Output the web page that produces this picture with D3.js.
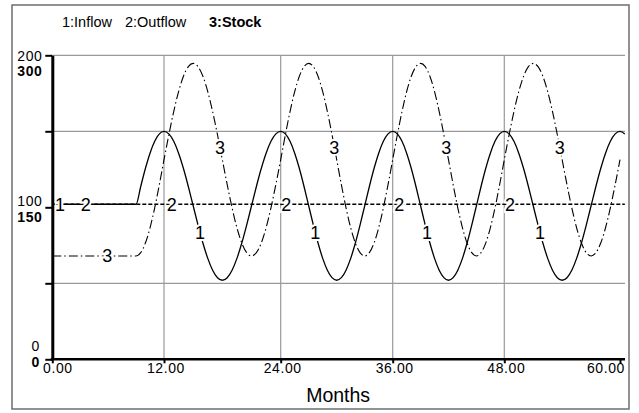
<!DOCTYPE html>
<html><head><meta charset="utf-8">
<script src="https://cdn.jsdelivr.net/npm/d3@7"></script>
<style>
body{margin:0;background:#fff}
svg{display:block}
text{font-family:"Liberation Sans",Arial,Helvetica,sans-serif;fill:#000}
</style>
</head><body>
<svg id="c" width="639" height="413"></svg>
<script>
// ---- data ----
const months = [0,0.5,1,1.5,2,2.5,3,3.5,4,4.5,5,5.5,6,6.5,7,7.5,8,8.5,9,9.5,10,10.5,11,11.5,12,12.5,13,13.5,14,14.5,15,15.5,16,16.5,17,17.5,18,18.5,19,19.5,20,20.5,21,21.5,22,22.5,23,23.5,24,24.5,25,25.5,26,26.5,27,27.5,28,28.5,29,29.5,30,30.5,31,31.5,32,32.5,33,33.5,34,34.5,35,35.5,36,36.5,37,37.5,38,38.5,39,39.5,40,40.5,41,41.5,42,42.5,43,43.5,44,44.5,45,45.5,46,46.5,47,47.5,48,48.5,49,49.5,50,50.5,51,51.5,52,52.5,53,53.5,54,54.5,55,55.5,56,56.5,57,57.5,58,58.5,59,59.5,60,60.5];

const inflow = [102,102,102,102,102,102,102,102,102,102,102,102,102,102,102,102,102,102,
102,113.7,125.5,135.6,143.4,148.3,150,148.3,143.4,135.6,125.5,113.7,101,88.3,76.5,66.4,58.6,53.7,52,53.7,58.6,66.4,76.5,88.3,
101,113.7,125.5,135.6,143.4,148.3,150,148.3,143.4,135.6,125.5,113.7,101,88.3,76.5,66.4,58.6,53.7,52,53.7,58.6,66.4,76.5,88.3,
101,113.7,125.5,135.6,143.4,148.3,150,148.3,143.4,135.6,125.5,113.7,101,88.3,76.5,66.4,58.6,53.7,52,53.7,58.6,66.4,76.5,88.3,
101,113.7,125.5,135.6,143.4,148.3,150,148.3,143.4,135.6,125.5,113.7,101,88.3,76.5,66.4,58.6,53.7,52,53.7,58.6,66.4,76.5,88.3,
101,113.7,125.5,135.6,143.4,148.3,150,148.3];

const outflow = [102,102,102,102,102,102,102,102,102,102,102,102,102,102,102,102,102,102,102,102,
102,102,102,102,102,102,102,102,102,102,102,102,102,102,102,102,102,102,102,102,
102,102,102,102,102,102,102,102,102,102,102,102,102,102,102,102,102,102,102,102,
102,102,102,102,102,102,102,102,102,102,102,102,102,102,102,102,102,102,102,102,
102,102,102,102,102,102,102,102,102,102,102,102,102,102,102,102,102,102,102,102,
102,102,102,102,102,102,102,102,102,102,102,102,102,102,102,102,102,102,102,102,102,102];

const stock = [102,102,102,102,102,102,102,102,102,102,102,102,102,102,102,102,102,102,
102,105.2,114.7,129.8,149.5,172.4,197,221.6,244.5,264.2,279.3,288.8,292,288.8,279.3,264.2,244.5,221.6,197,172.4,149.5,129.8,114.7,105.2,
102,105.2,114.7,129.8,149.5,172.4,197,221.6,244.5,264.2,279.3,288.8,292,288.8,279.3,264.2,244.5,221.6,197,172.4,149.5,129.8,114.7,105.2,
102,105.2,114.7,129.8,149.5,172.4,197,221.6,244.5,264.2,279.3,288.8,292,288.8,279.3,264.2,244.5,221.6,197,172.4,149.5,129.8,114.7,105.2,
102,105.2,114.7,129.8,149.5,172.4,197,221.6,244.5,264.2,279.3,288.8,292,288.8,279.3,264.2,244.5,221.6,197,172.4,149.5,129.8,114.7,105.2,
102,105.2,114.7,129.8,149.5,172.4,197];

const xTicks = [0,12,24,36,48,60];
const xTickLabels = ["0.00","12.00","24.00","36.00","48.00","60.00"];
const yTicksLeft = [0,50,100,150,200];
const yLabelsLeft = ["0","100","200"];
const yLabelsRight = ["0","150","300"];
const legendItems = ["1:Inflow","2:Outflow","3:Stock"];
const label1T = [0.83,15.7,27.7,39.7,51.7];
const label2T = [3.6,12.8,24.6,36.7,48.6];
const label3T = [5.9,17.75,29.75,41.75,53.75];

// ---- layout ----
const svg = d3.select("#c");
const L = 52.3, R = 620, RE = 625, T = 55.3, B = 359.3;
// the reference's time axis is slightly uneven; follow its measured tick positions
const x = d3.scaleLinear().domain(xTicks).range([L,164,280.7,392.7,504.3,R]);
const yL = d3.scaleLinear().domain([0,200]).range([B,T]);
const yR = d3.scaleLinear().domain([0,300]).range([B,T]);

// outer frame
svg.append("rect").attr("x",12).attr("y",5).attr("width",617).attr("height",404)
  .attr("fill","none").attr("stroke","#6e6e6e").attr("stroke-width",1.5);

// grid
const grid = svg.append("g").attr("stroke","#9a9a9a").attr("stroke-width",1.2);
grid.selectAll("line.v").data([12,24,36,48]).join("line")
  .attr("x1",d=>x(d)).attr("x2",d=>x(d)).attr("y1",T).attr("y2",B);
grid.selectAll("line.h").data([50,150,200]).join("line")
  .attr("x1",L).attr("x2",RE).attr("y1",d=>yL(d)).attr("y2",d=>yL(d));

// series
const lineL = arr => d3.line().x((d,i)=>x(months[i])).y(d=>yL(d)).curve(d3.curveMonotoneX)(arr);
const lineR = arr => d3.line().x((d,i)=>x(months[i])).y(d=>yR(d)).curve(d3.curveMonotoneX)(arr);

svg.append("path").attr("d",lineR(stock)).attr("fill","none").attr("stroke","#000")
  .attr("stroke-width",1.1).attr("stroke-dasharray","9,3,1.5,3");
svg.append("path").attr("d",lineL(outflow)).attr("fill","none").attr("stroke","#000")
  .attr("stroke-width",1.3).attr("stroke-dasharray","4,2");
svg.append("path").attr("d",lineL(inflow)).attr("fill","none").attr("stroke","#000")
  .attr("stroke-width",1.3);

// series number labels on curves
function valAt(arr,t){
  const i = Math.min(d3.bisectRight(months,t)-1, arr.length-2);
  const f = (t-months[i])/(months[i+1]-months[i]);
  return arr[i]+(arr[i+1]-arr[i])*f;
}
function addLabels(ts,arr,scale,txt){
  svg.append("g").selectAll("text").data(ts).join("text")
    .attr("x",d=>x(d)).attr("y",d=>scale(valAt(arr,d)))
    .attr("dy","0.36em").attr("text-anchor","middle")
    .attr("font-size",18).attr("stroke","#fff").attr("stroke-width",4)
    .attr("paint-order","stroke").text(txt);
}
addLabels(label3T,stock,yR,"3");
addLabels(label2T,outflow,yL,"2");
addLabels(label1T,inflow,yL,"1");

// left axis
const ax = svg.append("g").attr("transform",`translate(${L},0)`)
  .call(d3.axisLeft(yL).tickValues(yTicksLeft).tickSize(7).tickSizeOuter(0).tickFormat(""));
ax.select(".domain").attr("stroke-width",3);
ax.selectAll(".tick line").attr("stroke-width",2);

// bottom axis
const bx = svg.append("g").attr("transform",`translate(0,${B})`)
  .call(d3.axisBottom(x).tickValues(xTicks).tickSize(4).tickSizeOuter(0).tickFormat(""));
bx.select(".domain").remove();
bx.selectAll(".tick line").attr("stroke-width",2);
svg.append("line").attr("x1",L-1.5).attr("x2",RE).attr("y1",B).attr("y2",B)
  .attr("stroke","#000").attr("stroke-width",2.5);

// x tick labels
svg.append("g").selectAll("text").data(xTicks).join("text")
  .attr("x",(d,i)=> i===0 ? 43 : (i===xTicks.length-1 ? 625 : x(d)+2))
  .attr("y",372.5).attr("font-size",14).attr("letter-spacing","0.6px")
  .attr("text-anchor",(d,i)=> i===0 ? "start" : (i===xTicks.length-1 ? "end" : "middle"))
  .text((d,i)=>xTickLabels[i]);

// y tick labels (two scales)
const yLabTicks = [0,100,200];
yLabTicks.forEach((v,i)=>{
  const yy = yL(v);
  const bottom = (v===0);
  const xr = bottom ? 40 : 42.5;
  svg.append("text").attr("x",xr).attr("y", bottom ? yy-8 : (v===100 ? yy-1 : yy+6))
    .attr("text-anchor","end").attr("font-size",14).attr("letter-spacing","0.6px")
    .text(yLabelsLeft[i]);
  svg.append("text").attr("x",xr).attr("y", bottom ? yy+7.5 : (v===100 ? yy+14.5 : yy+21))
    .attr("text-anchor","end").attr("font-size",14).attr("font-weight","bold").attr("letter-spacing","0.6px")
    .text(yLabelsRight[i]);
});

// axis title
svg.append("text").attr("x",(L+R)/2+2).attr("y",402).attr("text-anchor","middle")
  .attr("font-size",19.5).text("Months");

// legend
const legX = [62,125,209];
svg.append("g").selectAll("text").data(legendItems).join("text")
  .attr("x",(d,i)=>legX[i]).attr("y",27).attr("font-size",14.5)
  .attr("font-weight",(d,i)=> i===2 ? "bold" : "normal").text(d=>d);
</script>
</body></html>
